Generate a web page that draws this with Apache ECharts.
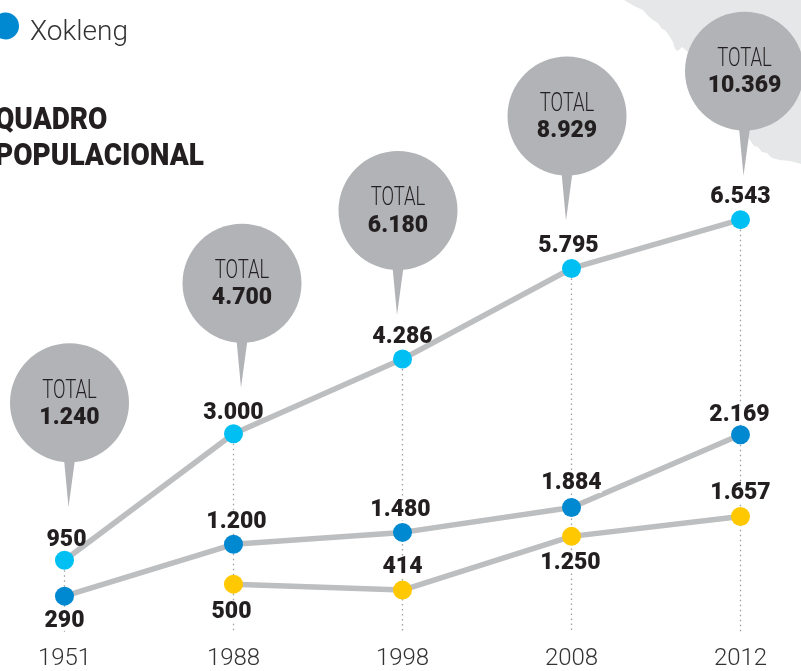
<!DOCTYPE html>
<html><head><meta charset="utf-8">
<style>html,body{margin:0;padding:0;background:#fff}#c{width:801px;height:671px}</style>
<script src="https://cdn.jsdelivr.net/npm/echarts@6/dist/echarts.min.js"></script>
</head><body><div id="c"></div>
<script>
const years = ['1951','1988','1998','2008','2012'];
// Printed values
const printedCyan = ['950','3.000','4.286','5.795','6.543'];
const printedBlue = ['290','1.200','1.480','1.884','2.169'];
const printedYellow = ['', '500','414','1.250','1.657'];
const printedTotals = ['1.240','4.700','6.180','8.929','10.369'];
// Heights as drawn in the picture (the infographic is not strictly to scale)
const levelCyan = [950,3050,4289,5793,6603];
const levelBlue = [355,1215,1413,1826,3033];
const levelYellow = [null,554,455,1347,1678];
const legendName = 'Xokleng';
const titleLines = ['QUADRO','POPULACIONAL'];

// Annotation placement (pixels), kept apart from the data
const bubbleShift = [5,8.5,-4.5,-4.5,4];
const bubbleGap = [53,46,44,48,44];
const offCyan = [[2,4],[0,4],[0,2],[-3,2],[0,2]];
const offBlue = [[0,1],[3,2],[-2,2],[0,0],[-1,4]];
const offYellow = [[0,0],[-2,4],[0,1],[-1,3],[0,1]];

const INK='#231f20', LINE='#bcbec0', BUB='#b1b3b6';
const yMin=-240, yMax=10223;
const labelPos = {
  cyan:['top','top','top','top','top'],
  blue:['bottom','top','top','top','top'],
  yellow:['top','bottom','top','bottom','top']
};
const numFont={fontFamily:'Roboto',fontWeight:900,fontSize:23,color:INK};
function mk(name,levels,printed,color,pos,off,bg){
  return {
    name,type:'line',data:levels.map((v,i)=>({
      value:v,
      label:{show:v!=null,position:pos[i],formatter:printed[i],distance:5,offset:off[i],
        backgroundColor:bg?'#fff':'transparent',padding:0,lineHeight:19,...numFont}
    })),
    symbol:'circle',symbolSize:19,showSymbol:true,z:3,
    connectNulls:false,animation:false,silent:true,
    lineStyle:{color:LINE,width:5.5},
    itemStyle:{color}
  };
}
const chart=echarts.init(document.getElementById('c'),null,{renderer:'canvas'});
const titleStyle={fontFamily:'Roboto',fontWeight:900,fontSize:32,fill:INK,align:'left',verticalAlign:'middle'};
const option={
  animation:false,backgroundColor:'#fff',
  grid:{left:64.5,right:60.5,top:1.5,bottom:36.5,containLabel:false},
  legend:{data:[legendName],left:-8,top:8,padding:0,itemWidth:27,itemHeight:27,icon:'circle',itemGap:0,
    selectedMode:false,formatter:n=>'{s| }\n{t|'+n+'}',
    textStyle:{rich:{
      s:{fontSize:4,lineHeight:13},
      t:{fontFamily:'Roboto',fontWeight:300,fontSize:28,lineHeight:32,color:'#333',padding:[0,0,0,6]}
    }}},
  xAxis:{type:'category',data:years,boundaryGap:false,
    axisLine:{show:false},axisTick:{show:false},splitLine:{show:false},
    axisLabel:{margin:15,fontFamily:'Roboto',fontWeight:300,fontSize:24,color:'#333',interval:0}},
  yAxis:{type:'value',min:yMin,max:yMax,show:false,splitLine:{show:false}},
  graphic:[
    {type:'polygon',z:-10,silent:true,
     shape:{points:[[624,0],[634,6],[643,10],[648,16],[653,20],[658,23],[662,29],[665,30],[670,37],[673,42],[675,49],[678,51],[682,47],[688,52],[695,60],
       [750,140],[754,146],[758,147],[762,152],[767,153],[772,158],[780,160],[790,161],[801,164],[801,0]]},
     style:{fill:'#e6e7e8'}},
    {type:'text',silent:true,z:10,x:-5,y:121,scaleX:0.875,style:{...titleStyle,text:titleLines[0]}},
    {type:'text',silent:true,z:10,x:-5,y:157,scaleX:0.875,style:{...titleStyle,text:titleLines[1]}}
  ],
  series:[
    {type:'custom',name:'Total',silent:true,z:1,animation:false,
     data:years.map((y,i)=>[i,Math.max(levelCyan[i],levelBlue[i])]),
     encode:{x:0,y:1},
     renderItem(params,api){
       const i=api.value(0);
       const p=api.coord([i,api.value(1)]);
       const tipX=p[0]+bubbleShift[i]-1, tipY=p[1]-bubbleGap[i];
       const cx=tipX+1, cy=tipY-104.5, r=59.5;
       return {type:'group',children:[
         {type:'circle',shape:{cx,cy,r},style:{fill:BUB}},
         {type:'polygon',shape:{points:[[cx-5.5,cy+r-3],[cx+5.5,cy+r-3],[tipX,tipY]]},style:{fill:BUB}},
         {type:'text',x:cx,y:cy-11.5,scaleX:0.74,style:{text:'TOTAL',align:'center',verticalAlign:'middle',
            fontFamily:'Roboto',fontWeight:300,fontSize:25,fill:INK}},
         {type:'text',x:cx,y:cy+15.5,style:{text:printedTotals[i],align:'center',verticalAlign:'middle',
            fontFamily:'Roboto',fontWeight:900,fontSize:23,fill:INK}}
       ]};
     }},
    {type:'custom',name:'Guias',silent:true,z:0,animation:false,
     data:years.map((y,i)=>[i,Math.max(levelCyan[i],levelBlue[i])]),
     encode:{x:0,y:1},
     renderItem(params,api){
       const i=api.value(0);
       const a=api.coord([i,api.value(1)]), b=api.coord([i,yMin]);
       return {type:'line',shape:{x1:a[0],y1:a[1],x2:b[0],y2:b[1]},
         style:{stroke:'#9d9fa2',lineWidth:1.3,lineDash:[1.5,3.5]}};
     }},
    mk('Série 1',levelCyan,printedCyan,'#00c0f3',labelPos.cyan,offCyan,false),
    mk(legendName,levelBlue,printedBlue,'#0088d0',labelPos.blue,offBlue,true),
    mk('Série 3',levelYellow,printedYellow,'#ffc800',labelPos.yellow,offYellow,true)
  ]
};
chart.setOption(option);
</script></body></html>
